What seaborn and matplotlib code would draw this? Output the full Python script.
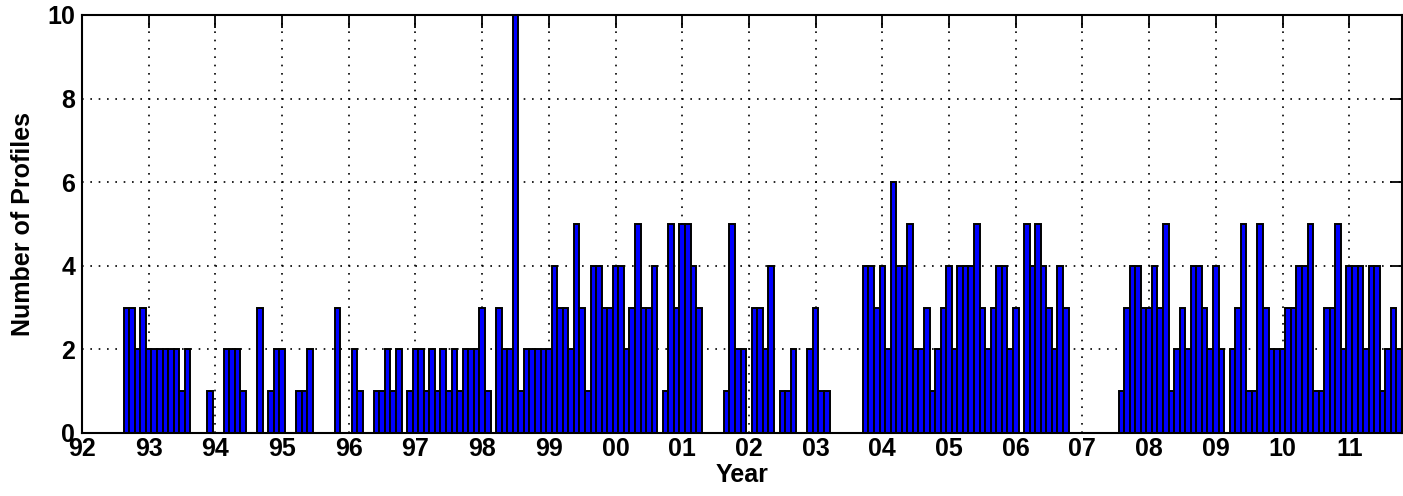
import numpy as np
import pandas as pd
import matplotlib
matplotlib.use("Agg")
import matplotlib.pyplot as plt
import seaborn as sns

# Monthly number of profiles, starting September 1992
first_month = "1992-09"
monthly_counts = [
    3, 3, 2, 3,                                # 1992 (Sep-Dec)
    2, 2, 2, 2, 2, 2, 1, 2, 0, 0, 0, 1,        # 1993
    0, 0, 2, 2, 2, 1, 0, 0, 3, 0, 1, 2,        # 1994
    2, 0, 0, 1, 1, 2, 0, 0, 0, 0, 3, 0,        # 1995
    0, 2, 1, 0, 0, 1, 1, 2, 1, 2, 0, 1,        # 1996
    2, 2, 1, 2, 1, 2, 1, 2, 1, 2, 2, 2,        # 1997
    3, 1, 0, 3, 2, 2, 10, 1, 2, 2, 2, 2,       # 1998
    2, 4, 3, 3, 2, 5, 3, 1, 4, 4, 3, 3,        # 1999
    4, 4, 2, 3, 5, 3, 3, 4, 0, 1, 5, 3,        # 2000
    5, 5, 4, 3, 0, 0, 0, 0, 1, 5, 2, 2,        # 2001
    0, 3, 3, 2, 4, 0, 1, 1, 2, 0, 0, 2,        # 2002
    3, 1, 1, 0, 0, 0, 0, 0, 0, 4, 4, 3,        # 2003
    4, 2, 6, 4, 4, 5, 2, 2, 3, 1, 2, 3,        # 2004
    4, 2, 4, 4, 4, 5, 3, 2, 3, 4, 4, 2,        # 2005
    3, 0, 5, 4, 5, 4, 3, 2, 4, 3, 0, 0,        # 2006
    0, 0, 0, 0, 0, 0, 0, 1, 3, 4, 4, 3,        # 2007
    3, 4, 3, 5, 1, 2, 3, 2, 4, 4, 3, 2,        # 2008
    4, 2, 0, 2, 3, 5, 1, 1, 5, 3, 2, 2,        # 2009
    2, 3, 3, 4, 4, 5, 1, 1, 3, 3, 5, 2,        # 2010
    4, 4, 4, 2, 4, 4, 1, 2, 3, 2,              # 2011 (Jan-Oct)
]

year_ticks = list(range(1992, 2012))
year_labels = [f"{y % 100:02d}" for y in year_ticks]
count_ticks = [0, 2, 4, 6, 8, 10]

months = pd.period_range(first_month, periods=len(monthly_counts), freq="M")
decimal_year = np.asarray(months.year + (months.month - 1) / 12.0, dtype=float)
df = pd.DataFrame({"year": decimal_year, "count": monthly_counts})

sns.set_theme(style="white")
plt.rcParams["font.family"] = ["Liberation Sans", "DejaVu Sans"]

W, H = 1403, 496
fig = plt.figure(figsize=(W / 100, H / 100), dpi=100)
ax = fig.add_axes([82 / W, 1 - 433 / H, 1320 / W, (433 - 15) / H])

sns.barplot(
    data=df, x="year", y="count", native_scale=True, width=1.0,
    color=(0, 0, 1), saturation=1, edgecolor="black", linewidth=1.4,
    errorbar=None, ax=ax,
)

last_edge = decimal_year[-1] + 1 / 24
ax.set_xlim(1992, last_edge)
ax.set_ylim(0, 10)
ax.set_xticks(year_ticks)
ax.set_xticklabels(year_labels)
ax.set_yticks(count_ticks)
ax.set_yticklabels([str(v) for v in count_ticks])

# dotted grid behind the bars
ax.set_axisbelow(True)
ax.grid(True, color="black", linestyle=(0, (1, 4)), linewidth=1.2)

for s in ax.spines.values():
    s.set_visible(True)
    s.set_color("black")
    s.set_linewidth(1.5)

ax.tick_params(direction="in", length=9, width=1.3, top=True, right=True,
               labelsize=18, colors="black")
ax.tick_params(axis="x", pad=3)
ax.tick_params(axis="y", pad=5)
for lbl in ax.get_xticklabels() + ax.get_yticklabels():
    lbl.set_fontweight("bold")

ax.set_xlabel("Year", fontsize=18, fontweight="bold", color="black", labelpad=1)
ax.set_ylabel("Number of Profiles", fontsize=18, fontweight="bold",
              color="black", labelpad=9)

fig.savefig("out.png", dpi=100)
